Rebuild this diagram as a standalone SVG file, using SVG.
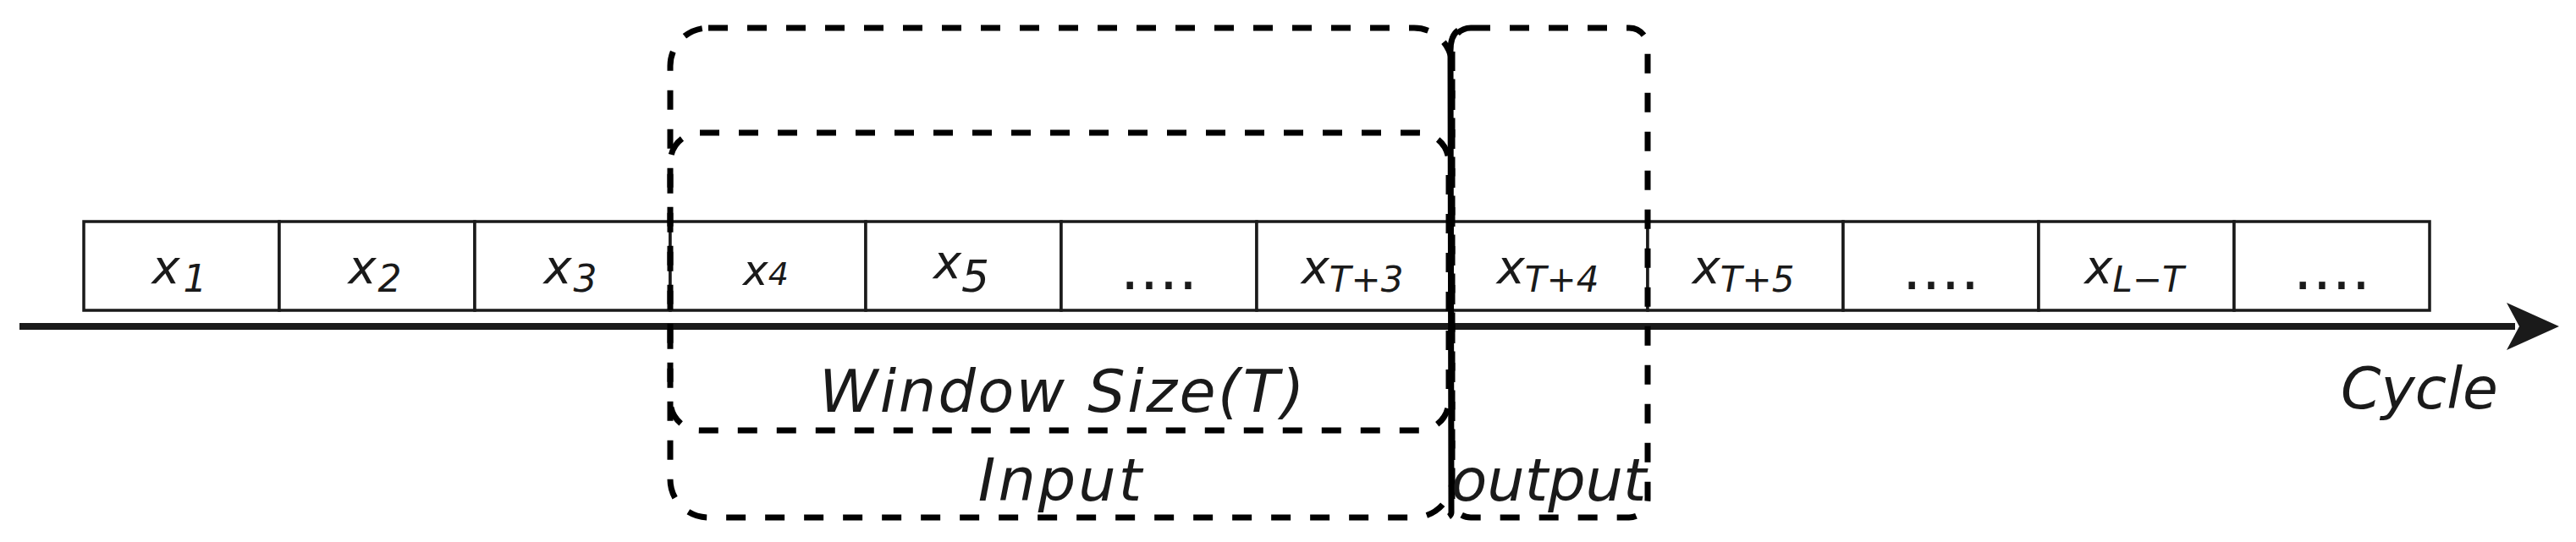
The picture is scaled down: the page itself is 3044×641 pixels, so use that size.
<svg xmlns="http://www.w3.org/2000/svg" width="3044" height="641" viewBox="0 0 3044 641">
<style>
.cell{fill:#fff;stroke:#1a1a1a;stroke-width:3.5}
.t{font-family:"DejaVu Sans",Verdana,sans-serif;font-style:oblique;fill:#1a1a1a;text-anchor:middle}
.x{font-size:56px}
.dots{font-family:"DejaVu Sans",sans-serif;font-size:72px;fill:#1a1a1a;text-anchor:middle}
.lbl{font-size:70px}
.dash{fill:none;stroke:#000;stroke-width:7;stroke-dasharray:23 23}
</style>
<g id="cells">
<g id="c1"><rect class="cell" x="99" y="262" width="231" height="105"/><text class="t x" x="212" y="335">x<tspan font-size="44" dx="4" dy="10">1</tspan></text></g>
<g id="c2"><rect class="cell" x="330" y="262" width="231" height="105"/><text class="t x" x="443" y="335">x<tspan font-size="44" dx="2" dy="10">2</tspan></text></g>
<g id="c3"><rect class="cell" x="561" y="262" width="231" height="105"/><text class="t x" x="674" y="335">x<tspan font-size="44" dx="2" dy="10">3</tspan></text></g>
<g id="c4"><rect class="cell" x="792" y="262" width="231" height="105"/><text class="t" x="905" y="337" font-size="50">x<tspan font-size="38">4</tspan></text></g>
<g id="c5"><rect class="cell" x="1023" y="262" width="231" height="105"/><text class="t x" x="1136" y="329">x<tspan font-size="52" dy="16">5</tspan></text></g>
<g id="c6"><rect class="cell" x="1254" y="262" width="231" height="105"/><text class="dots" x="1369.5" y="342">....</text></g>
<g id="c7"><rect class="cell" x="1485" y="262" width="231" height="105"/><text class="t x" x="1598" y="335">x<tspan font-size="42" dy="10">T+3</tspan></text></g>
<g id="c8"><rect class="cell" x="1716" y="262" width="231" height="105"/><text class="t x" x="1829" y="335">x<tspan font-size="42" dy="10">T+4</tspan></text></g>
<g id="c9"><rect class="cell" x="1947" y="262" width="231" height="105"/><text class="t x" x="2060" y="335">x<tspan font-size="42" dy="10">T+5</tspan></text></g>
<g id="c10"><rect class="cell" x="2178" y="262" width="231" height="105"/><text class="dots" x="2293.5" y="342">....</text></g>
<g id="c11"><rect class="cell" x="2409" y="262" width="231" height="105"/><text class="t x" x="2522" y="335">x<tspan font-size="42" dy="10">L−T</tspan></text></g>
<g id="c12"><rect class="cell" x="2640" y="262" width="231" height="105"/><text class="dots" x="2755.5" y="342">....</text></g>
</g>
<g id="connectors">
<line x1="23" y1="386" x2="2972" y2="386" stroke="#1a1a1a" stroke-width="8"/>
<polygon points="2962,358 3024,386 2962,414 2977,386" fill="#1a1a1a"/>
</g>
<g id="input-box"><rect class="dash" x="792" y="33" width="924" height="579" rx="45" ry="45"/><text class="t lbl" x="1254" y="592" letter-spacing="3">Input</text></g>
<g id="window-box"><rect class="dash" x="792" y="157" width="920" height="352" rx="35" ry="35"/><text class="t lbl" x="1256" y="487" letter-spacing="2.5">Window Size(T)</text></g>
<g id="output-box"><rect class="dash" x="1716" y="33" width="231" height="579" rx="22" ry="22"/><text class="t lbl" x="1830" y="592">output</text></g>
<g id="divider"><path d="M1723,36 Q1714,42 1714,60 L1715,606 Q1715,609 1712,611" fill="none" stroke="#000" stroke-width="7"/></g>
<g id="cycle"><text class="t" x="2859" y="483" font-size="68">Cycle</text></g>
</svg>
